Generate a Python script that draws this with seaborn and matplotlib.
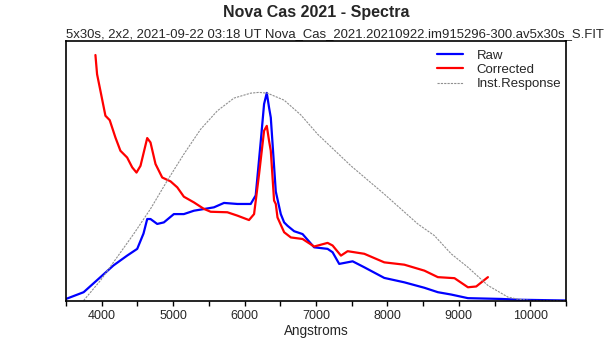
import numpy as np
import pandas as pd
import matplotlib
matplotlib.use("Agg")
import matplotlib.pyplot as plt
import seaborn as sns

# ---- data ----
raw_wl = [3500, 3747, 3982, 4164, 4356, 4497, 4585, 4637, 4683, 4777, 4870, 5010, 5150, 5291,
          5571, 5712, 5900, 6086, 6156, 6227, 6273, 6311, 6343, 6367, 6437, 6507, 6554, 6601,
          6694, 6812, 6974, 7162, 7232, 7325, 7513, 7676, 7956, 8237, 8518, 8706, 8892, 9127,
          9594, 9828, 10506]
raw_flux = [0.006, 0.032, 0.090, 0.135, 0.173, 0.199, 0.258, 0.314, 0.314, 0.295, 0.301, 0.333,
            0.333, 0.346, 0.359, 0.376, 0.372, 0.372, 0.405, 0.615, 0.757, 0.800, 0.743, 0.705,
            0.420, 0.333, 0.301, 0.288, 0.267, 0.256, 0.205, 0.199, 0.186, 0.141, 0.151, 0.128,
            0.087, 0.070, 0.049, 0.032, 0.023, 0.009, 0.006, 0.003, 0.0]

cor_wl = [3912, 3935, 3982, 4052, 4112, 4192, 4262, 4356, 4427, 4487, 4543, 4637, 4683, 4753,
          4847, 4964, 5058, 5150, 5291, 5431, 5525, 5759, 5900, 6062, 6133, 6203, 6273, 6311,
          6343, 6367, 6413, 6437, 6461, 6554, 6648, 6812, 6974, 7162, 7232, 7349, 7443, 7676,
          7956, 8237, 8518, 8706, 8939, 9127, 9243, 9407]
cor_flux = [0.946, 0.872, 0.808, 0.712, 0.695, 0.628, 0.577, 0.551, 0.513, 0.493, 0.519, 0.626,
            0.609, 0.526, 0.474, 0.459, 0.436, 0.400, 0.378, 0.353, 0.342, 0.340, 0.327, 0.310,
            0.333, 0.487, 0.654, 0.673, 0.615, 0.577, 0.385, 0.372, 0.320, 0.263, 0.243, 0.237,
            0.208, 0.222, 0.212, 0.173, 0.190, 0.180, 0.147, 0.138, 0.115, 0.090, 0.086, 0.051,
            0.054, 0.090]

inst_wl = [3747, 3982, 4216, 4449, 4683, 4918, 5150, 5385, 5619, 5852, 6086, 6200, 6320, 6554,
           6788, 7022, 7489, 7956, 8425, 8658, 8892, 9127, 9407, 9688, 9828, 10015, 10506]
inst_resp = [0.0, 0.077, 0.167, 0.257, 0.353, 0.462, 0.564, 0.660, 0.731, 0.780, 0.799, 0.802,
             0.799, 0.772, 0.715, 0.641, 0.519, 0.410, 0.295, 0.250, 0.180, 0.128, 0.058, 0.013,
             0.005, 0.0, 0.0]

x_ticks = [4000, 5000, 6000, 7000, 8000, 9000, 10000]

raw_df = pd.DataFrame({"Angstroms": raw_wl, "flux": raw_flux})
cor_df = pd.DataFrame({"Angstroms": cor_wl, "flux": cor_flux})
inst_df = pd.DataFrame({"Angstroms": inst_wl, "flux": inst_resp})

sns.set_style("white")
plt.rcParams["font.family"] = ["Liberation Sans", "DejaVu Sans"]

fig = plt.figure(figsize=(6.15, 3.4), dpi=100)
ax = fig.add_axes([66 / 615, 1 - 300.5 / 340, 500 / 615, 259.5 / 340])

sns.lineplot(data=raw_df, x="Angstroms", y="flux", ax=ax, color="#0000ff", lw=1.6,
             label="Raw", estimator=None, sort=False)
sns.lineplot(data=cor_df, x="Angstroms", y="flux", ax=ax, color="#ff0000", lw=1.6,
             label="Corrected", estimator=None, sort=False)
sns.lineplot(data=inst_df, x="Angstroms", y="flux", ax=ax, color="#909090", lw=0.8,
             label="Inst.Response", estimator=None, sort=False)
ax.lines[-1].set_dashes([2, 1])

ax.set_xlim(3500, 10500)
ax.set_ylim(0, 1)
ax.set_yticks([])
ax.set_ylabel("")
ax.set_xticks(np.arange(3500, 10501, 500), minor=True)
ax.set_xticks(x_ticks)
ax.set_xticklabels([str(t) for t in x_ticks], fontsize=9)
ax.tick_params(axis="x", which="both", direction="out", length=3.6, width=1,
               bottom=True, color="black", pad=3.5)
ax.set_xlabel("Angstroms", fontsize=9.75, labelpad=1)
for s in ax.spines.values():
    s.set_visible(True)
    s.set_color("black")
    s.set_linewidth(1.2)

leg = ax.legend(loc="upper right", frameon=False, fontsize=9.5, handlelength=2.0,
                labelspacing=0.15, borderaxespad=0.15, handletextpad=1.0,
                bbox_to_anchor=(1.005, 0.995))
ax.set_zorder(1)

fig.text(0.5 * (66 + 566) / 615, 1 - 12.5 / 340, "Nova Cas 2021 - Spectra", ha="center",
         va="center", fontsize=11.5, fontweight="bold")
fig.text(66.5 / 615, 1 - 37.5 / 340,
         "5x30s, 2x2, 2021-09-22 03:18 UT Nova_Cas_2021.20210922.im915296-300.av5x30s_S.FIT",
         ha="left", va="baseline", fontsize=9.45, zorder=0)

fig.savefig("out.png", dpi=100)
